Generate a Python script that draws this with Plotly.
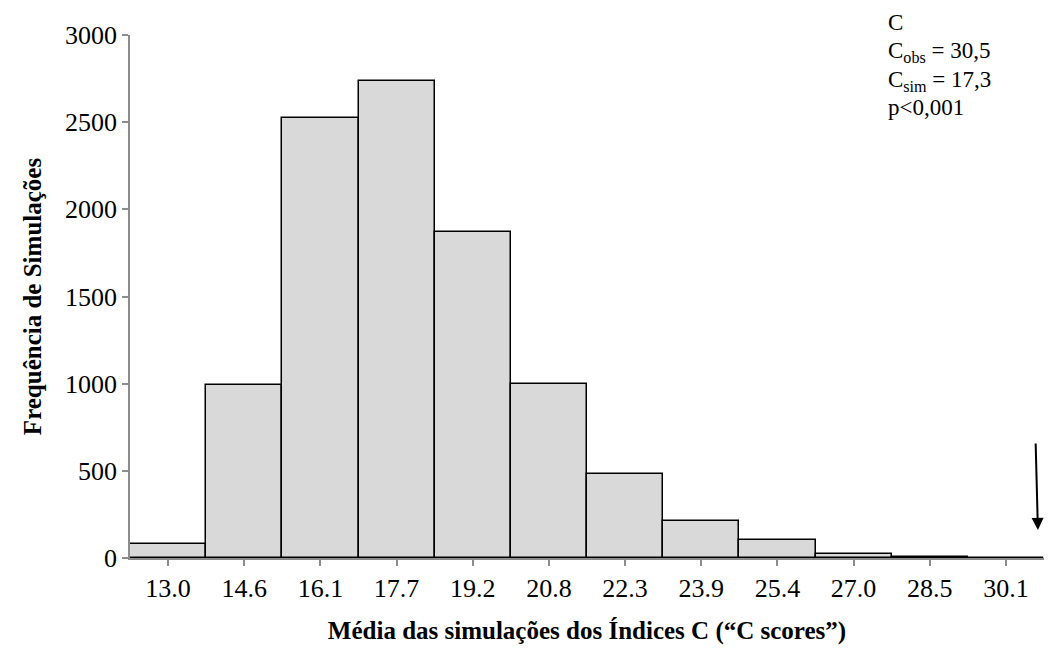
import plotly.graph_objects as go

categories = ["13.0", "14.6", "16.1", "17.7", "19.2", "20.8", "22.3", "23.9", "25.4", "27.0", "28.5", "30.1"]
frequencies = [80, 990, 2525, 2735, 1870, 1000, 480, 215, 105, 25, 3, 0]
y_ticks = [0, 500, 1000, 1500, 2000, 2500, 3000]
stats_lines = ["C", "C<sub>obs</sub> = 30,5", "C<sub>sim</sub> = 17,3", "p<0,001"]

FONT = "Liberation Serif, Times New Roman, serif"

L, R, T, B = 130, 1044, 35, 558
W = R - L
H = B - T

fig = go.Figure()
fig.add_trace(go.Bar(
    x=categories, y=frequencies,
    marker=dict(color="#d9d9d9", line=dict(color="black", width=1.5)),
    showlegend=False,
))

def py(pix):
    return (B - pix) / H

annotations = []
line_pix = [22, 52, 81, 108]
for txt, yp in zip(stats_lines, line_pix):
    annotations.append(dict(
        text=txt, xref="paper", yref="paper", x=(886 - L) / W, y=py(yp),
        xanchor="left", yanchor="middle", showarrow=False,
        font=dict(family=FONT, size=23, color="black"),
    ))

# arrow pointing at observed value
annotations.append(dict(
    x=11.42, y=161, ax=11.39, ay=665, xref="x", yref="y", axref="x", ayref="y",
    text="", showarrow=True, arrowhead=2, arrowsize=1.2, arrowwidth=2, arrowcolor="black",
))

fig.update_layout(
    width=1048, height=661,
    margin=dict(l=L, r=1048 - R, t=T, b=661 - B),
    paper_bgcolor="white", plot_bgcolor="white",
    bargap=0,
    font=dict(family=FONT, size=26, color="black"),
    annotations=annotations,
    xaxis=dict(
        type="category", showline=True, linecolor="#8c8c8c", linewidth=1.5,
        ticks="outside", ticklen=6, tickcolor="#8c8c8c", tickwidth=1.5,
        showgrid=False, zeroline=False,
        tickfont=dict(family=FONT, size=26),
        title=dict(text="<b>Média das simulações dos Índices C (“C scores”)</b>",
                   font=dict(family=FONT, size=25), standoff=20),
        range=[-0.5, 11.5],
    ),
    yaxis=dict(
        range=[0, 3000], tickvals=y_ticks, showline=True, linecolor="#8c8c8c", linewidth=1.5,
        ticks="outside", ticklen=6, tickcolor="#8c8c8c", tickwidth=1.5,
        showgrid=False, zeroline=False,
        tickfont=dict(family=FONT, size=26),
        title=dict(text="<b>Frequência de Simulações</b>", font=dict(family=FONT, size=25), standoff=16),
    ),
    shapes=[dict(type="line", xref="paper", x0=1, x1=1, yref="y", ysizemode="pixel", yanchor=0,
                 y0=0, y1=-6, line=dict(color="#8c8c8c", width=1.5))],
)

fig.write_html("out.html")
